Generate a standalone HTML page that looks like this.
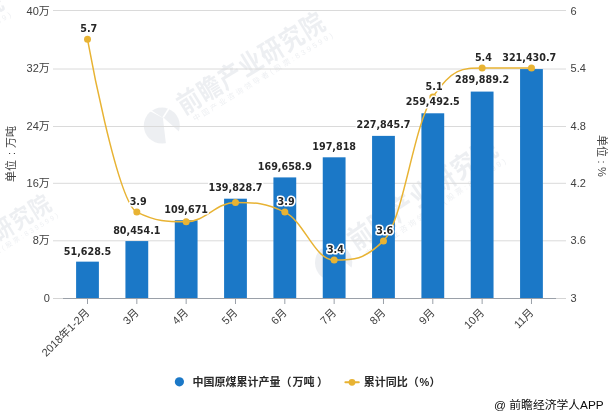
<!DOCTYPE html>
<html lang="zh"><head><meta charset="utf-8"><title>中国原煤累计产量</title>
<style>html,body{margin:0;padding:0;background:#fff}body{width:610px;height:415px;overflow:hidden}svg{display:block}</style>
</head><body>
<svg width="610" height="415" viewBox="0 0 610 415">
<defs><clipPath id="lc"><circle cx="0" cy="0" r="18"/></clipPath></defs>
<rect width="610" height="415" fill="#fff"/>
<g fill="#76819a" fill-opacity="0.13" font-family="'Liberation Sans','Noto Sans CJK SC',sans-serif"><g transform="translate(161.8 125.6) rotate(0.0) scale(1)"><path d="M0-19A19 19 0 1 0 0 19A19 19 0 1 0 0-19ZM1-8.6L4.6 22L22 10.2ZM1.6-7.4L0.2-8.4L-11.6-16.2L-12.6-14.8ZM0.4-8.2L1.9-7.6L9.6-19.4L8-20Z" fill-rule="evenodd" clip-path="url(#lc)"/></g><g transform="translate(161.8 125.6) rotate(-31.5) scale(1)"><text transform="translate(24.5 3) scale(1 1.16)" font-size="23" font-weight="bold" letter-spacing="1.1">前瞻产业研究院</text><text x="30.5" y="14" font-size="7.5" letter-spacing="2.5">中国产业咨询领导者(股票:839599)</text></g></g>
<g fill="#76819a" fill-opacity="0.13" font-family="'Liberation Sans','Noto Sans CJK SC',sans-serif"><g transform="translate(333.6 262.5) rotate(-2.7) scale(1.035)"><path d="M0-19A19 19 0 1 0 0 19A19 19 0 1 0 0-19ZM1-8.6L4.6 22L22 10.2ZM1.6-7.4L0.2-8.4L-11.6-16.2L-12.6-14.8ZM0.4-8.2L1.9-7.6L9.6-19.4L8-20Z" fill-rule="evenodd" clip-path="url(#lc)"/></g><g transform="translate(333.6 262.5) rotate(-34.2) scale(1.035)"><text transform="translate(24.5 3) scale(1 1.16)" font-size="23" font-weight="bold" letter-spacing="1.1">前瞻产业研究院</text><text x="30.5" y="14" font-size="7.5" letter-spacing="2.5">中国产业咨询领导者(股票:839599)</text></g></g>
<g fill="#76819a" fill-opacity="0.13" font-family="'Liberation Sans','Noto Sans CJK SC',sans-serif"><g transform="translate(-95.7 296.4) rotate(0.0) scale(0.9)"><path d="M0-19A19 19 0 1 0 0 19A19 19 0 1 0 0-19ZM1-8.6L4.6 22L22 10.2ZM1.6-7.4L0.2-8.4L-11.6-16.2L-12.6-14.8ZM0.4-8.2L1.9-7.6L9.6-19.4L8-20Z" fill-rule="evenodd" clip-path="url(#lc)"/></g><g transform="translate(-95.7 296.4) rotate(-31.5) scale(0.9)"><text transform="translate(24.5 3) scale(1 1.16)" font-size="23" font-weight="bold" letter-spacing="1.1">前瞻产业研究院</text><text x="30.5" y="14" font-size="7.5" letter-spacing="2.5">中国产业咨询领导者(股票:839599)</text></g></g>
<g fill="#76819a" fill-opacity="0.13" font-family="'Liberation Sans','Noto Sans CJK SC',sans-serif"><g transform="translate(-160 105) rotate(0.0) scale(1)"><path d="M0-19A19 19 0 1 0 0 19A19 19 0 1 0 0-19ZM1-8.6L4.6 22L22 10.2ZM1.6-7.4L0.2-8.4L-11.6-16.2L-12.6-14.8ZM0.4-8.2L1.9-7.6L9.6-19.4L8-20Z" fill-rule="evenodd" clip-path="url(#lc)"/></g><g transform="translate(-160 105) rotate(-31.5) scale(1)"><text transform="translate(24.5 3) scale(1 1.16)" font-size="23" font-weight="bold" letter-spacing="1.1">前瞻产业研究院</text><text x="30.5" y="14" font-size="7.5" letter-spacing="2.5">中国产业咨询领导者(股票:839599)</text></g></g>
<path d="M53 240.80H566" stroke="#dadada" stroke-width="1" fill="none"/>
<path d="M53 183.30H566" stroke="#dadada" stroke-width="1" fill="none"/>
<path d="M53 126.50H566" stroke="#dadada" stroke-width="1" fill="none"/>
<path d="M53 69.00H566" stroke="#dadada" stroke-width="1" fill="none"/>
<path d="M53 10.50H566" stroke="#dadada" stroke-width="1" fill="none"/>
<rect x="76.10" y="261.65" width="22.8" height="36.85" fill="#1b78c7"/>
<rect x="125.43" y="241.08" width="22.8" height="57.42" fill="#1b78c7"/>
<rect x="174.76" y="220.22" width="22.8" height="78.28" fill="#1b78c7"/>
<rect x="224.09" y="198.70" width="22.8" height="99.80" fill="#1b78c7"/>
<rect x="273.42" y="177.41" width="22.8" height="121.09" fill="#1b78c7"/>
<rect x="322.75" y="157.31" width="22.8" height="141.19" fill="#1b78c7"/>
<rect x="372.08" y="135.88" width="22.8" height="162.62" fill="#1b78c7"/>
<rect x="421.41" y="113.29" width="22.8" height="185.21" fill="#1b78c7"/>
<rect x="470.74" y="91.59" width="22.8" height="206.91" fill="#1b78c7"/>
<rect x="520.07" y="69.08" width="22.8" height="229.42" fill="#1b78c7"/>
<path d="M53 298.5H566" stroke="#d4d4d4" stroke-width="1" fill="none"/>
<path d="M63 298.5H556" stroke="#9aa0a8" stroke-width="1" fill="none"/>
<path d="M87.50 298.5V304.0" stroke="#9aa0a8" stroke-width="1" fill="none"/>
<path d="M136.83 298.5V304.0" stroke="#9aa0a8" stroke-width="1" fill="none"/>
<path d="M186.16 298.5V304.0" stroke="#9aa0a8" stroke-width="1" fill="none"/>
<path d="M235.49 298.5V304.0" stroke="#9aa0a8" stroke-width="1" fill="none"/>
<path d="M284.82 298.5V304.0" stroke="#9aa0a8" stroke-width="1" fill="none"/>
<path d="M334.15 298.5V304.0" stroke="#9aa0a8" stroke-width="1" fill="none"/>
<path d="M383.48 298.5V304.0" stroke="#9aa0a8" stroke-width="1" fill="none"/>
<path d="M432.81 298.5V304.0" stroke="#9aa0a8" stroke-width="1" fill="none"/>
<path d="M482.14 298.5V304.0" stroke="#9aa0a8" stroke-width="1" fill="none"/>
<path d="M531.47 298.5V304.0" stroke="#9aa0a8" stroke-width="1" fill="none"/>
<path d="M87.50 39.30C87.50 39.30 117.10 202.50 136.83 212.10C156.56 221.70 166.43 221.70 186.16 221.70C205.89 221.70 215.76 202.50 235.49 202.50C255.22 202.50 265.09 202.50 284.82 212.10C304.55 221.70 314.42 260.10 334.15 260.10C353.88 260.10 363.75 260.10 383.48 240.90C403.21 221.70 413.08 125.70 432.81 96.90C452.54 68.10 462.41 68.10 482.14 68.10C501.87 68.10 531.47 68.10 531.47 68.10" stroke="#e8b333" stroke-width="1.5" fill="none" stroke-linejoin="round" stroke-linecap="round"/>
<circle cx="87.50" cy="39.30" r="3.5" fill="#e8b333"/>
<circle cx="136.83" cy="212.10" r="3.5" fill="#e8b333"/>
<circle cx="186.16" cy="221.70" r="3.5" fill="#e8b333"/>
<circle cx="235.49" cy="202.50" r="3.5" fill="#e8b333"/>
<circle cx="284.82" cy="212.10" r="3.5" fill="#e8b333"/>
<circle cx="334.15" cy="260.10" r="3.5" fill="#e8b333"/>
<circle cx="383.48" cy="240.90" r="3.5" fill="#e8b333"/>
<circle cx="432.81" cy="96.90" r="3.5" fill="#e8b333"/>
<circle cx="482.14" cy="68.10" r="3.5" fill="#e8b333"/>
<circle cx="531.47" cy="68.10" r="3.5" fill="#e8b333"/>
<g font-family="'DejaVu Sans','Liberation Sans',sans-serif" font-weight="bold" font-size="9.6" fill="#262626" text-anchor="middle" stroke="#fff" stroke-width="3.2" stroke-linejoin="round" paint-order="stroke">
<text x="87.50" y="254.93">51,628.5</text>
<text x="136.83" y="234.17">80,454.1</text>
<text x="186.16" y="213.14">109,671</text>
<text x="235.49" y="191.42">139,828.7</text>
<text x="284.82" y="169.95">169,658.9</text>
<text x="334.15" y="149.67">197,818</text>
<text x="383.48" y="128.05">227,845.7</text>
<text x="432.81" y="105.27">259,492.5</text>
<text x="482.14" y="83.38">289,889.2</text>
<text x="529.27" y="60.67">321,430.7</text>
<text x="88.80" y="32.40">5.7</text>
<text x="138.13" y="205.20">3.9</text>
<text x="286.12" y="205.20">3.9</text>
<text x="335.45" y="253.20">3.4</text>
<text x="384.78" y="234.00">3.6</text>
<text x="434.11" y="90.00">5.1</text>
<text x="483.44" y="61.20">5.4</text>
</g>
<g font-family="'Liberation Sans','Noto Sans CJK SC',sans-serif" font-size="11" fill="#404040">
<text x="49.8" y="301.55" text-anchor="end">0</text>
<text x="49.8" y="244.20" text-anchor="end">8万</text>
<text x="49.8" y="186.85" text-anchor="end">16万</text>
<text x="49.8" y="129.50" text-anchor="end">24万</text>
<text x="49.8" y="72.15" text-anchor="end">32万</text>
<text x="49.8" y="14.80" text-anchor="end">40万</text>
<text x="570.6" y="301.75">3</text>
<text x="570.6" y="244.35">3.6</text>
<text x="570.6" y="186.95">4.2</text>
<text x="570.6" y="129.55">4.8</text>
<text x="570.6" y="72.15">5.4</text>
<text x="570.6" y="14.75">6</text>
<text transform="translate(90.30 313.10) rotate(-45)" text-anchor="end">2018年1-2月</text>
<text transform="translate(139.63 313.10) rotate(-45)" text-anchor="end">3月</text>
<text transform="translate(188.96 313.10) rotate(-45)" text-anchor="end">4月</text>
<text transform="translate(238.29 313.10) rotate(-45)" text-anchor="end">5月</text>
<text transform="translate(287.62 313.10) rotate(-45)" text-anchor="end">6月</text>
<text transform="translate(336.95 313.10) rotate(-45)" text-anchor="end">7月</text>
<text transform="translate(386.28 313.10) rotate(-45)" text-anchor="end">8月</text>
<text transform="translate(435.61 313.10) rotate(-45)" text-anchor="end">9月</text>
<text transform="translate(484.94 313.10) rotate(-45)" text-anchor="end">10月</text>
<text transform="translate(534.27 313.10) rotate(-45)" text-anchor="end">11月</text>
<text transform="translate(15.2 181.9) rotate(-90)">单位<tspan dx="4.9">:</tspan><tspan dx="3.9">万吨</tspan></text>
<text transform="translate(597.6 135) rotate(90)">单位<tspan dx="3.5">:</tspan><tspan dx="3.4">%</tspan></text>
</g>
<circle cx="179.4" cy="381.8" r="4.6" fill="#1b78c7"/>
<path d="M345.4 382.3H358.8" stroke="#e8b333" stroke-width="2" stroke-linecap="round"/><circle cx="352" cy="382.3" r="3.4" fill="#e8b333"/>
<g font-family="'Liberation Sans','Noto Sans CJK SC',sans-serif" font-size="11" font-weight="bold" fill="#2a2a2a">
<text x="192.5" y="386.4">中国原煤累计产量（<tspan dx="1">万吨</tspan><tspan dx="2.5">）</tspan></text>
<text x="363.8" y="386.4">累计同比（<tspan dx="0.6">%</tspan><tspan dx="0.4">）</tspan></text>
</g>
<text x="603.7" y="408.6" text-anchor="end" font-family="'Liberation Sans','Noto Sans CJK SC',sans-serif" font-size="11.8" fill="#0a0a0a">@ 前瞻经济学人APP</text>
</svg>
</body></html>
